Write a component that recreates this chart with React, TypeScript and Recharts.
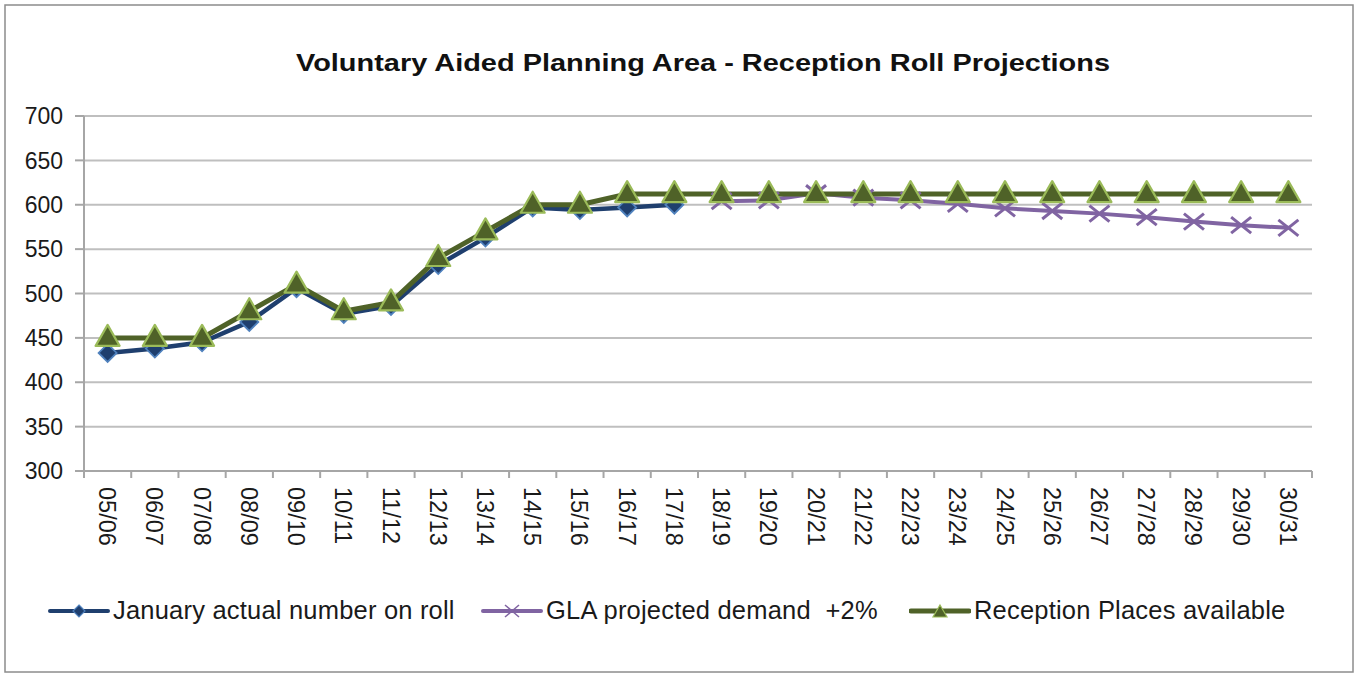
import React from 'react';
import { LineChart, Line, XAxis, YAxis, CartesianGrid, Legend } from 'recharts';

const categories = ['05/06', '06/07', '07/08', '08/09', '09/10', '10/11', '11/12', '12/13', '13/14', '14/15', '15/16', '16/17', '17/18', '18/19', '19/20', '20/21', '21/22', '22/23', '23/24', '24/25', '25/26', '26/27', '27/28', '28/29', '29/30', '30/31'];
const actualOnRoll: (number | null)[] = [433, 438, 445, 468, 506, 477, 486, 532, 563, 597, 594, 597, 600, null, null, null, null, null, null, null, null, null, null, null, null, null];
const glaProjected: (number | null)[] = [null, null, null, null, null, null, null, null, null, null, null, null, null, 604, 605, 613, 608, 605, 601, 596, 593, 590, 586, 581, 577, 574];
const placesAvailable: (number | null)[] = [450, 450, 450, 480, 510, 480, 490, 540, 570, 600, 600, 612, 612, 612, 612, 612, 612, 612, 612, 612, 612, 612, 612, 612, 612, 612];
const yTicks = [300, 350, 400, 450, 500, 550, 600, 650, 700];

const seriesNames = {
  actual: 'January actual number on roll',
  gla: 'GLA projected demand  +2%',
  places: 'Reception Places available',
};

const data = categories.map((c, i) => ({
  year: c,
  actual: actualOnRoll[i],
  gla: glaProjected[i],
  places: placesAvailable[i],
}));

const FONT = '"Liberation Sans", Arial, sans-serif';
const NAVY = '#1F3F6E';
const LIGHTBLUE = '#4F81BD';
const PURPLE = '#8064A2';
const OLIVE = '#4F6228';
const LIGHTGREEN = '#9BBB59';

const CHART_W = 1359;
const CHART_H = 677;
const PLOT_LEFT = 84;
const PLOT_RIGHT = 1312;
const BAND = (PLOT_RIGHT - PLOT_LEFT) / categories.length;

const Diamond = (props: any) => {
  const { cx, cy, index } = props;
  if (cx == null || cy == null || props.value == null) return <g key={'d' + index} />;
  const s = 9;
  return (
    <path key={'d' + index} d={`M${cx},${cy - s}L${cx + s},${cy}L${cx},${cy + s}L${cx - s},${cy}Z`} fill={NAVY} stroke={LIGHTBLUE} strokeWidth={1.8} />
  );
};

const Cross = (props: any) => {
  const { cx, cy, index } = props;
  if (cx == null || cy == null || props.value == null) return <g key={'x' + index} />;
  const s = 10;
  return (
    <g key={'x' + index}>
      <line x1={cx - s} y1={cy - s * 0.8} x2={cx + s} y2={cy + s * 0.8} stroke={PURPLE} strokeWidth={3} />
      <line x1={cx - s} y1={cy + s * 0.8} x2={cx + s} y2={cy - s * 0.8} stroke={PURPLE} strokeWidth={3} />
    </g>
  );
};

const Triangle = (props: any) => {
  const { cx, cy, index } = props;
  if (cx == null || cy == null || props.value == null) return <g key={'t' + index} />;
  return (
    <path key={'t' + index} d={`M${cx},${cy - 13}L${cx + 12},${cy + 8}L${cx - 12},${cy + 8}Z`} fill={OLIVE} stroke={LIGHTGREEN} strokeWidth={2.2} strokeLinejoin="round" />
  );
};

const XTick = (props: any) => {
  const { x, y, payload, index } = props;
  const axisY = y - 16;
  const isLast = index === categories.length - 1;
  return (
    <g>
      <line x1={x - BAND / 2} y1={axisY} x2={x - BAND / 2} y2={axisY + 7} stroke="#A6A6A6" strokeWidth={2} />
      {isLast && <line x1={x + BAND / 2} y1={axisY} x2={x + BAND / 2} y2={axisY + 7} stroke="#A6A6A6" strokeWidth={2} />}
      <text x={x} y={y} transform={`rotate(90, ${x}, ${y})`} dy="0.36em" textAnchor="start" fontSize={23.5} fontFamily={FONT} fill="#1a1a1a">
        {payload.value}
      </text>
    </g>
  );
};

const LegendIcon = ({ kind }: { kind: string }) => {
  const w = 62;
  const cx = w / 2;
  const cy = 11;
  return (
    <svg width={w} height={22} style={{ display: 'block' }}>
      {kind === 'actual' && (
        <g>
          <line x1={2} y1={cy} x2={w - 2} y2={cy} stroke={NAVY} strokeWidth={4} strokeLinecap="round" />
          <path d={`M${cx},${cy - 6}L${cx + 6},${cy}L${cx},${cy + 6}L${cx - 6},${cy}Z`} fill={NAVY} stroke={LIGHTBLUE} strokeWidth={1.2} />
        </g>
      )}
      {kind === 'gla' && (
        <g>
          <line x1={2} y1={cy} x2={w - 2} y2={cy} stroke={PURPLE} strokeWidth={4} strokeLinecap="round" />
          <line x1={cx - 7} y1={cy - 6} x2={cx + 7} y2={cy + 6} stroke={PURPLE} strokeWidth={1.5} />
          <line x1={cx - 7} y1={cy + 6} x2={cx + 7} y2={cy - 6} stroke={PURPLE} strokeWidth={1.5} />
        </g>
      )}
      {kind === 'places' && (
        <g>
          <line x1={2} y1={cy} x2={w - 2} y2={cy} stroke={OLIVE} strokeWidth={5} strokeLinecap="round" />
          <path d={`M${cx},${cy - 6}L${cx + 7},${cy + 6}L${cx - 7},${cy + 6}Z`} fill={OLIVE} stroke={LIGHTGREEN} strokeWidth={1.2} />
        </g>
      )}
    </svg>
  );
};

const legendPositions: Record<string, number> = { actual: 48, gla: 481, places: 909 };

const renderLegend = (props: any) => {
  const payload = props.payload || [];
  return (
    <div style={{ position: 'relative', width: CHART_W, height: 34 }}>
      {payload.map((p: any) => {
        const key = p.dataKey as string;
        return (
          <div key={key} style={{ position: 'absolute', left: legendPositions[key], top: 0, display: 'flex', alignItems: 'center', gap: 3 }}>
            <LegendIcon kind={key} />
            <span style={{ fontFamily: FONT, fontSize: 25.5, color: '#1a1a1a', whiteSpace: 'pre', letterSpacing: 0.2 }}>{(seriesNames as any)[key]}</span>
          </div>
        );
      })}
    </div>
  );
};

export default function App() {
  return (
    <div style={{ position: 'absolute', left: 0, top: 0, width: CHART_W, height: CHART_H, background: '#fff' }}>
      <svg width={CHART_W} height={CHART_H} style={{ position: 'absolute', left: 0, top: 0 }}>
        <rect x={5} y={5} width={1348} height={667} fill="#fff" stroke="#8C8C8C" strokeWidth={1.5} />
        <text x={703} y={71} textAnchor="middle" fontFamily={FONT} fontWeight="bold" fontSize={24} fill="#111" textLength={814} lengthAdjust="spacingAndGlyphs">
          Voluntary Aided Planning Area - Reception Roll Projections
        </text>
      </svg>
      <div style={{ position: 'absolute', left: 0, top: 0 }}>
        <LineChart width={CHART_W} height={CHART_H} data={data} margin={{ top: 116, right: CHART_W - PLOT_RIGHT, bottom: 92, left: 14 }}>
          <CartesianGrid vertical={false} stroke="#BFBFBF" strokeWidth={2} />
          <XAxis dataKey="year" interval={0} height={80} padding={{ left: BAND / 2, right: BAND / 2 }} tickSize={8} tickMargin={8} tickLine={false} axisLine={{ stroke: '#A6A6A6', strokeWidth: 2 }} tick={<XTick />} />
          <YAxis domain={[300, 700]} ticks={yTicks} interval={0} width={70} tickSize={9} tickMargin={12} axisLine={{ stroke: '#A6A6A6', strokeWidth: 2 }} tickLine={{ stroke: '#A6A6A6', strokeWidth: 2 }} tick={{ fontFamily: FONT, fontSize: 23, fill: '#1a1a1a' }} />
          <Legend verticalAlign="bottom" height={34} content={renderLegend} wrapperStyle={{ left: 0, top: 596, width: CHART_W }} />
          <Line type="linear" dataKey="actual" name={seriesNames.actual} stroke={NAVY} strokeWidth={4.5} dot={<Diamond />} activeDot={false} isAnimationActive={false} connectNulls={false} />
          <Line type="linear" dataKey="gla" name={seriesNames.gla} stroke={PURPLE} strokeWidth={4} dot={<Cross />} activeDot={false} isAnimationActive={false} connectNulls={false} />
          <Line type="linear" dataKey="places" name={seriesNames.places} stroke={OLIVE} strokeWidth={5} dot={<Triangle />} activeDot={false} isAnimationActive={false} connectNulls={false} />
        </LineChart>
      </div>
    </div>
  );
}
